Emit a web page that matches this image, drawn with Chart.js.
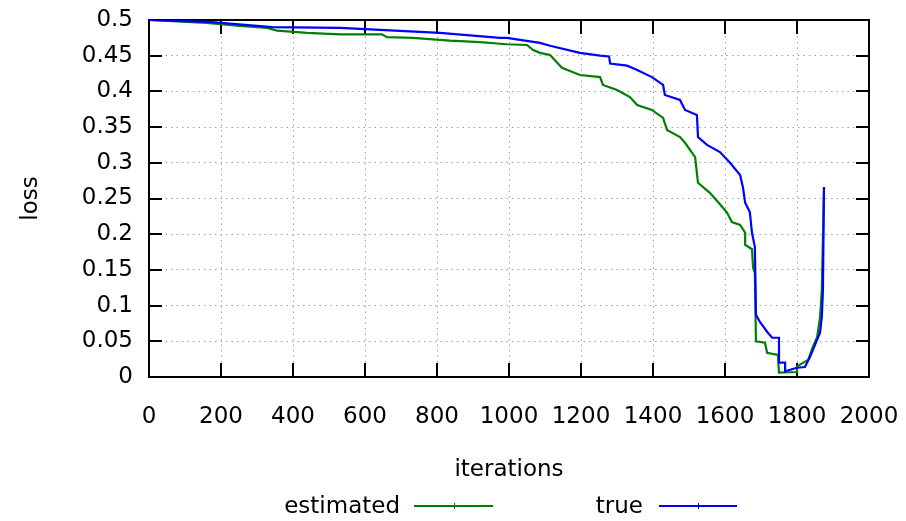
<!DOCTYPE html>
<html>
<head>
<meta charset="utf-8">
<script src="https://cdn.jsdelivr.net/npm/chart.js@4.4.1/dist/chart.umd.min.js"></script>
<style>
  html, body { margin: 0; padding: 0; background: #fff; }
  #wrap { width: 906px; height: 521px; position: relative; }
</style>
</head>
<body>
<div id="wrap"><canvas id="c" width="906" height="521"></canvas></div>
<script>
// ---- data ----
const xTickValues = [0, 200, 400, 600, 800, 1000, 1200, 1400, 1600, 1800, 2000];
const yTickValues = [0, 0.05, 0.1, 0.15, 0.2, 0.25, 0.3, 0.35, 0.4, 0.45, 0.5];

const seriesNames = ["estimated", "true"];

const iterEstimated = [0, 161, 244, 328, 356, 439, 531, 647, 661, 733, 789, 836, 919, 994, 1050, 1067, 1086, 1114, 1147, 1197, 1253, 1261, 1300, 1336, 1356, 1397, 1428, 1439, 1475, 1489, 1517, 1525, 1558, 1586, 1606, 1619, 1642, 1656, 1656, 1675, 1678, 1683, 1686, 1711, 1717, 1747, 1750, 1800, 1800, 1831, 1844, 1856, 1864, 1869, 1875];
const lossEstimated = [0.500, 0.496, 0.492, 0.489, 0.485, 0.482, 0.480, 0.480, 0.476, 0.475, 0.473, 0.471, 0.469, 0.466, 0.465, 0.458, 0.454, 0.451, 0.433, 0.423, 0.420, 0.409, 0.402, 0.392, 0.381, 0.374, 0.363, 0.346, 0.336, 0.328, 0.308, 0.272, 0.258, 0.242, 0.230, 0.217, 0.213, 0.202, 0.185, 0.179, 0.153, 0.146, 0.050, 0.048, 0.034, 0.031, 0.006, 0.007, 0.015, 0.024, 0.042, 0.056, 0.083, 0.122, 0.266];

const iterTrue = [0, 175, 342, 531, 808, 975, 994, 1086, 1114, 1197, 1253, 1278, 1281, 1328, 1356, 1397, 1428, 1433, 1475, 1489, 1522, 1525, 1550, 1586, 1614, 1642, 1650, 1656, 1669, 1675, 1683, 1686, 1697, 1719, 1731, 1750, 1750, 1767, 1767, 1800, 1822, 1836, 1850, 1864, 1869, 1872, 1875];
const lossTrue = [0.500, 0.497, 0.490, 0.489, 0.482, 0.475, 0.475, 0.468, 0.464, 0.454, 0.450, 0.449, 0.439, 0.436, 0.430, 0.420, 0.409, 0.395, 0.388, 0.374, 0.367, 0.336, 0.325, 0.315, 0.300, 0.283, 0.265, 0.244, 0.231, 0.202, 0.182, 0.087, 0.077, 0.062, 0.055, 0.055, 0.020, 0.020, 0.008, 0.013, 0.014, 0.028, 0.045, 0.062, 0.084, 0.122, 0.266];

// ---- build chart ----
const FONT = "'DejaVu Sans', sans-serif";
const FS = 23;
Chart.defaults.font.family = FONT;
Chart.defaults.font.size = FS;
Chart.defaults.color = '#000';

function pts(xs, ys) { return xs.map((x, i) => ({ x: x, y: ys[i] })); }

const framePlugin = {
  id: 'frame',
  beforeDatasetsDraw(chart) {
    const { ctx, chartArea: a, scales } = chart;
    ctx.save();
    ctx.strokeStyle = '#000';
    ctx.lineWidth = 2;
    ctx.beginPath();
    xTickValues.forEach(v => {
      const px = Math.round(scales.x.getPixelForValue(v));
      ctx.moveTo(px, a.bottom); ctx.lineTo(px, a.bottom - 14);
      ctx.moveTo(px, a.top); ctx.lineTo(px, a.top + 14);
    });
    yTickValues.forEach(v => {
      const py = Math.round(scales.y.getPixelForValue(v));
      ctx.moveTo(a.left, py); ctx.lineTo(a.left + 13, py);
      ctx.moveTo(a.right, py); ctx.lineTo(a.right - 13, py);
    });
    ctx.stroke();
    ctx.strokeRect(a.left, a.top, a.right - a.left, a.bottom - a.top);
    ctx.restore();
  }
};

const keyPlugin = {
  id: 'key',
  afterDraw(chart) {
    const { ctx } = chart;
    const entries = [
      { ds: chart.data.datasets[1], textRight: 400, x0: 414, x1: 493 },
      { ds: chart.data.datasets[0], textRight: 643, x0: 659, x1: 737 }
    ];
    const yMid = 507;
    ctx.save();
    ctx.font = FS + 'px ' + FONT;
    ctx.fillStyle = '#000';
    ctx.textAlign = 'right';
    ctx.textBaseline = 'middle';
    entries.forEach(e => {
      ctx.fillText(e.ds.label, e.textRight, yMid);
      ctx.strokeStyle = e.ds.borderColor;
      ctx.lineWidth = 2;
      ctx.beginPath();
      ctx.moveTo(e.x0, yMid - 1); ctx.lineTo(e.x1, yMid - 1);
      ctx.stroke();
      const mid = Math.round((e.x0 + e.x1) / 2) + 0.5;
      ctx.lineWidth = 1;
      ctx.beginPath();
      ctx.moveTo(mid, yMid - 4); ctx.lineTo(mid, yMid + 2);
      ctx.stroke();
    });
    ctx.restore();
  }
};

new Chart(document.getElementById('c'), {
  type: 'line',
  data: {
    datasets: [
      {
        label: seriesNames[1],
        data: pts(iterTrue, lossTrue),
        borderColor: '#0000ff',
        backgroundColor: '#0000ff',
        borderWidth: 2.2,
        pointRadius: 0,
        tension: 0,
        fill: false,
        order: 0
      },
      {
        label: seriesNames[0],
        data: pts(iterEstimated, lossEstimated),
        borderColor: '#008000',
        backgroundColor: '#008000',
        borderWidth: 2.2,
        pointRadius: 0,
        tension: 0,
        fill: false,
        order: 1
      }
    ]
  },
  options: {
    responsive: false,
    animation: false,
    layout: { padding: { top: 20, right: 37, left: 0, bottom: 0 } },
    plugins: { legend: { display: false }, tooltip: { enabled: false } },
    scales: {
      x: {
        type: 'linear',
        min: 0, max: 2000,
        afterBuildTicks: s => { s.ticks = xTickValues.map(v => ({ value: v })); },
        afterFit: s => { s.height = 144; s.paddingLeft = 0; s.paddingRight = 0; },
        ticks: { padding: 26, maxRotation: 0, autoSkip: false, callback: v => String(v) },
        grid: { color: '#a0a0a0', lineWidth: 1, drawTicks: false },
        border: { display: false, dash: [1.5, 4] },
        title: { display: true, text: 'iterations', padding: { top: 0, bottom: 37 } }
      },
      y: {
        min: 0, max: 0.5,
        afterBuildTicks: s => { s.ticks = yTickValues.map(v => ({ value: v })); },
        afterFit: s => { s.width = 149; s.paddingTop = 0; s.paddingBottom = 0; },
        ticks: { padding: 16, autoSkip: false, callback: v => String(+Number(v).toFixed(2)) },
        grid: { color: '#a0a0a0', lineWidth: 1, drawTicks: false },
        border: { display: false, dash: [1.5, 4] },
        title: { display: true, text: 'loss', padding: { top: 17, bottom: 0 } }
      }
    }
  },
  plugins: [framePlugin, keyPlugin]
});
</script>
</body>
</html>
